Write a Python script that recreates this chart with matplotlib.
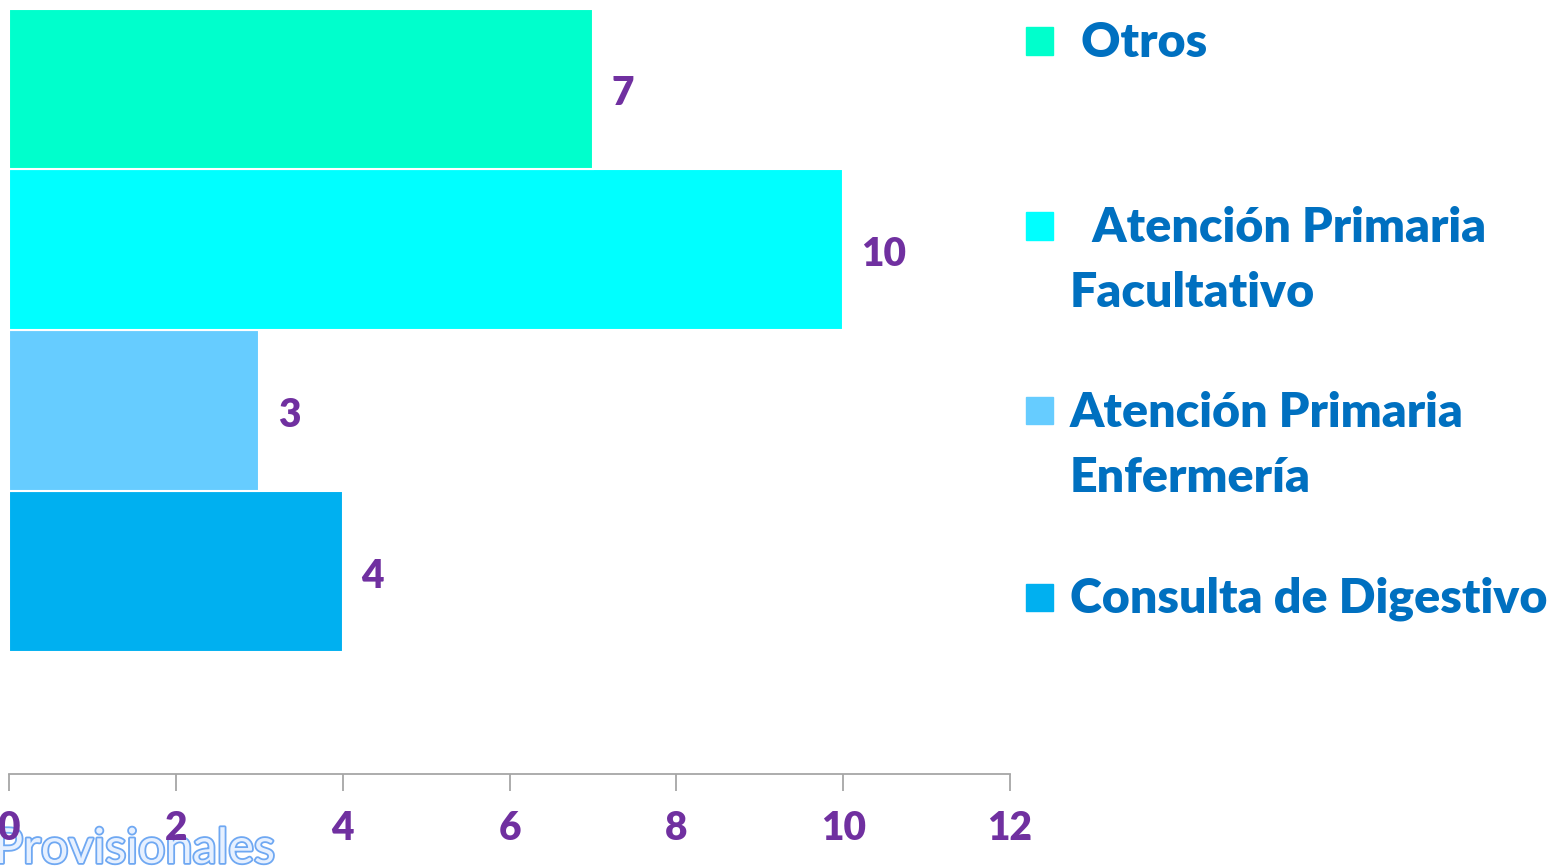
import matplotlib
matplotlib.use("Agg")
import matplotlib.pyplot as plt
import matplotlib.patheffects as pe
from matplotlib.patches import Rectangle

# data (bottom to top, as drawn)
categories = ["Consulta de Digestivo", "Atención Primaria Enfermería",
              "Atención Primaria Facultativo", "Otros"]
values = [4, 3, 10, 7]
colors = ["#00B0F0", "#66CCFF", "#00FFFF", "#00FFCC"]
# legend labels top to bottom as shown in the picture
legend_labels = [" Otros", "  Atención Primaria\nFacultativo",
                 "Atención Primaria\nEnfermería", "Consulta de Digestivo"]
xticks = [0, 2, 4, 6, 8, 10, 12]

purple = "#7030A0"
blue_txt = "#0070C0"
W, H = 1551, 867

plt.rcParams["font.family"] = ["Lato", "DejaVu Sans"]
fig = plt.figure(figsize=(W / 100, H / 100), dpi=100)
ax = fig.add_axes([9 / W, (H - 774) / H, (1010 - 9) / W, (774 - 8.5) / H])
ax.patch.set_visible(False)

ypos = list(range(len(values)))
ax.barh(ypos, values, height=1.0, color=colors, edgecolor="white", linewidth=1.5)
for y, v in zip(ypos, values):
    ax.text(v + 0.22, y - 0.03, str(v), va="center", ha="left", color=purple,
            fontsize=28, fontweight="heavy")

ax.set_xlim(0, 12)
ax.set_ylim(-1.255, 3.5)
ax.set_xticks(xticks)
ax.set_xticklabels([str(t) for t in xticks], color=purple, fontsize=28, fontweight="heavy")
ax.set_yticks([])
ax.tick_params(axis="x", length=12, width=1.3, color="#A6A6A6", pad=14)
for s in ["top", "right", "left"]:
    ax.spines[s].set_visible(False)
ax.spines["bottom"].set_color("#A6A6A6")
ax.spines["bottom"].set_linewidth(1.3)

# legend drawn by hand (top to bottom)
leg_colors = colors[::-1]
marker_y = [41, 226, 411, 597]
for lab, col, my in zip(legend_labels, leg_colors, marker_y):
    fig.patches.append(Rectangle((1026 / W, (H - my - 13.5) / H), 27 / W, 27 / H,
                                 transform=fig.transFigure, color=col, figure=fig))
    for j, line in enumerate(lab.split("\n")):
        fig.text(1070 / W, (H - my - 2 - j * 65) / H, line, va="center", ha="left",
                 color=blue_txt, fontsize=34.8, fontweight="heavy")

# watermark-like text at the bottom left, behind the tick labels
fig.text(-6 / W, 4 / H, "Provisionales", fontsize=35, color="#E6F0FF",
         ha="left", va="baseline", zorder=-1,
         path_effects=[pe.Stroke(linewidth=2.6, foreground="#6FA8F2"), pe.Normal()])

fig.savefig("out.png", dpi=100)
